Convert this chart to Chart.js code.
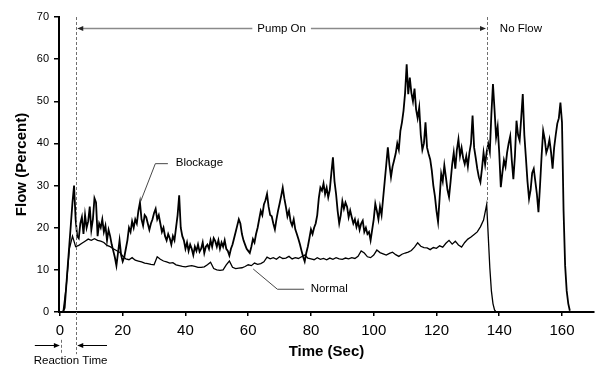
<!DOCTYPE html>
<html>
<head>
<meta charset="utf-8">
<script src="https://cdn.jsdelivr.net/npm/chart.js@4.4.1/dist/chart.umd.min.js"></script>
<style>
  html, body { margin: 0; padding: 0; background: #fff; }
</style>
</head>
<body>
<canvas id="flow-chart" width="595" height="365"></canvas>
<script>
// Blockage flow, sampled every 0.5 s starting at t = 1 s
const blockStart = 1;
const blockStep = 0.5;
const blockage = [
  0, 1, 6, 11, 16, 21, 26, 30, 22, 18,
  17.5, 21, 22.5, 18.5, 23, 20, 21.5, 25, 19.5, 22,
  27, 26, 18, 21, 20, 22, 19, 20.5, 17, 19.5,
  18, 16, 14.5, 13, 11, 14, 17, 13.5, 12, 13,
  15, 17, 20, 19, 21.5, 20, 22, 21, 24, 26,
  22, 20.5, 23, 22.5, 21, 19.5, 21, 22, 23.5, 24.5,
  22, 23, 21, 19, 20, 18, 17, 18.5, 17.5, 16,
  18, 17, 20, 23, 27.7, 20, 18, 17, 15, 16.5,
  14.5, 16, 15, 13.5, 15.5, 14.5, 16, 14.3, 15, 16.5,
  14, 15.5, 16, 15, 17, 15.5, 17.5, 16.8, 15.5, 17,
  15, 16.5, 15.5, 17, 15, 14.5, 13.4, 15, 16, 17.5,
  19, 20.5, 22, 21, 18.5, 17, 16, 15, 14.5, 14,
  15.5, 17.3, 16.5, 18.5, 20, 22, 24, 23, 25.5, 26.5,
  28, 25, 23, 22.7, 21, 19.6, 22, 24, 25.7, 27.5,
  29.5, 27, 25, 22.7, 24, 21.5, 20.5, 22, 19.6, 18.5,
  17.3, 16, 14.5, 13.1, 12, 14, 15.5, 17.5, 19.6, 18.5,
  20, 21, 23, 27, 29.5, 28.8, 30.5, 28, 29.5, 27.2,
  29, 33, 36.7, 31, 28, 24, 21, 23, 26.3, 24.5,
  26, 25, 22.5, 24.1, 22.5, 21, 22, 20.2, 21.5, 19.5,
  21, 21.7, 19, 20, 18.5, 19, 17, 19.5, 22, 25.7,
  24, 22, 25, 23, 27, 31, 35, 39.1, 35, 32,
  34.5, 36, 37.6, 40, 38.5, 43, 45, 47.8, 52, 58.8,
  51.7, 55.6, 52, 50, 53, 48.1, 46, 48.5, 42, 38.5,
  40, 45, 39, 37.5, 36.2, 33.6, 30, 27.5, 24, 21.4,
  27, 32.8, 31, 34.8, 32, 29, 27.3, 31, 35, 37.8,
  34, 38.5, 41, 37, 39, 36.5, 35.1, 37, 34.5, 37.8,
  40, 46.6, 39, 36.6, 34, 32, 30.8, 34, 37.8, 35,
  38, 39.9, 38, 47, 54.1, 48, 41.5, 44, 37.8, 29.6,
  33, 36, 34.5, 37.8, 40, 41.7, 36, 31.5, 37, 45.4,
  42, 40.7, 46, 51.7, 42, 36.6, 31, 26.9, 29, 33,
  34, 31, 28, 23.7, 30, 37, 43, 41, 37.8, 39,
  40.9, 38, 34, 39, 42, 44.7, 46, 49.7, 45, 24,
  11, 5, 2, 0.3
];

// Normal flow, sampled every 1 s starting at t = 1 s
const normalStart = 1;
const normalStep = 1;
const normal = [
  0, 6, 15, 18, 15.5, 15.8, 16.3, 16.8, 17.3, 17,
  17.4, 17, 16.8, 16.5, 15.8, 15.5, 15, 14.6, 14.2, 13.3,
  12.6, 12.4, 12.9, 12.3, 12.1, 11.9, 11.6, 11.5, 11.3, 11.2,
  13.1, 12.5, 12.1, 11.9, 11.6, 11.7, 11.2, 11, 10.8, 10.7,
  10.9, 11, 10.8, 10.6, 10.6, 10.7, 11.2, 11.8, 10.3, 10,
  9.9, 10, 11.2, 12.1, 10.6, 10.3, 10.4, 10.5, 10.8, 11.2,
  11, 11.6, 11.3, 11.5, 11.9, 13, 12.6, 12.9, 12.5, 13.1,
  12.7, 12.8, 13.2, 12.6, 12.9, 12.7, 13.1, 13.5, 12.8, 12.6,
  12.4, 12.9, 12.5, 12.7, 12.4, 12.8, 12.5, 12.9, 12.6, 12.5,
  12.8, 12.6, 12.9, 12.7, 13.2, 14.5, 14, 13.1, 12.9, 13.5,
  14.7, 14.1, 13.8, 13.5, 13.9, 14.2, 13.6, 13.2, 13.7, 14,
  14.2, 14.6, 15.4, 16.4, 15.6, 15.3, 15.2, 14.8, 15.3, 15.1,
  15.7, 15.4, 16.3, 17, 16.1, 16.8, 15.9, 15.4, 16.5, 17.3,
  17.8, 18.4, 19, 20.2, 21.8, 25.5
];
// pump switched off: normal flow falls away
const normalTailTime = [136.5, 137, 137.5, 138, 138.5, 139];
const normalTail = [18, 10.5, 5, 2, 0.5, 0];

const xTicks = [0, 20, 40, 60, 80, 100, 120, 140, 160];

const FONT = '"Liberation Sans", Arial, Helvetica, sans-serif';

const toPoints = (vals, start, step) => vals.map((v, i) => ({ x: start + i * step, y: v }));
const blockagePts = toPoints(blockage, blockStart, blockStep);
const normalPts = toPoints(normal, normalStart, normalStep)
  .concat(normalTailTime.map((t, i) => ({ x: t, y: normalTail[i] })));

// annotation layout, in data units (time, percent)
const marks = {
  reactionStart: 0.3,
  pumpOn: 5.2,
  pumpOff: 136.1,
  arrowLevel: 67.4,
  reactionArrowLevel: -7.8,
  reactionTextLevel: -11.5,
  lineBottom: -10,
  pumpOffBottom: 25.8
};

const drawArrowHead = (ctx, x, y, dir) => {
  ctx.beginPath();
  ctx.moveTo(x, y);
  ctx.lineTo(x - dir * 6, y - 2.5);
  ctx.lineTo(x - dir * 6, y + 2.5);
  ctx.closePath();
  ctx.fill();
};

const segment = (ctx, x1, y1, x2, y2) => {
  ctx.beginPath();
  ctx.moveTo(x1, y1);
  ctx.lineTo(x2, y2);
  ctx.stroke();
};

const notesPlugin = {
  id: 'notes',
  afterDraw(chart) {
    const ctx = chart.ctx;
    const xs = chart.scales.x;
    const ys = chart.scales.y;
    const px = v => xs.getPixelForValue(v);
    const py = v => ys.getPixelForValue(v);
    ctx.save();

    // dashed markers
    ctx.strokeStyle = '#707070';
    ctx.lineWidth = 1;
    ctx.setLineDash([3, 2]);
    segment(ctx, Math.round(px(marks.pumpOn)) + 0.5, py(70), Math.round(px(marks.pumpOn)) + 0.5, py(marks.lineBottom));
    segment(ctx, Math.round(px(marks.pumpOff)) + 0.5, py(70), Math.round(px(marks.pumpOff)) + 0.5, py(marks.pumpOffBottom));
    segment(ctx, Math.round(px(marks.reactionStart)) + 0.5, py(-6.6), Math.round(px(marks.reactionStart)) + 0.5, py(marks.lineBottom));
    ctx.setLineDash([]);

    ctx.font = '11.5px ' + FONT;
    ctx.textBaseline = 'middle';

    // Pump On arrow
    const ay = Math.round(py(marks.arrowLevel)) + 0.5;
    const x1 = px(marks.pumpOn) + 1;
    const x2 = px(marks.pumpOff) - 1;
    const label = 'Pump On';
    const w = ctx.measureText(label).width;
    const mid = (x1 + x2) / 2;
    ctx.strokeStyle = '#8a8a8a';
    ctx.lineWidth = 1.4;
    segment(ctx, x1 + 4, ay, mid - w / 2 - 5, ay);
    segment(ctx, mid + w / 2 + 5, ay, x2 - 4, ay);
    ctx.fillStyle = '#222';
    drawArrowHead(ctx, x1, ay, -1);
    drawArrowHead(ctx, x2, ay, 1);
    ctx.fillStyle = '#000';
    ctx.textAlign = 'center';
    ctx.fillText(label, mid, ay);
    ctx.textAlign = 'left';
    ctx.fillText('No Flow', px(140.2), ay);

    // Reaction time arrows
    const ry = Math.round(py(marks.reactionArrowLevel)) + 0.5;
    ctx.strokeStyle = '#000';
    ctx.lineWidth = 1;
    segment(ctx, px(-8), ry, px(marks.reactionStart) - 5, ry);
    drawArrowHead(ctx, px(marks.reactionStart) - 1, ry, 1);
    segment(ctx, px(15), ry, px(marks.pumpOn) + 6, ry);
    drawArrowHead(ctx, px(marks.pumpOn) + 1, ry, -1);
    ctx.textAlign = 'center';
    ctx.fillText('Reaction Time', px(3.4), py(marks.reactionTextLevel));

    // series labels with leader lines
    ctx.strokeStyle = '#333';
    ctx.lineWidth = 0.9;
    ctx.beginPath();
    ctx.moveTo(px(25.7), py(26.2));
    ctx.lineTo(px(30.4), py(35.2));
    ctx.lineTo(px(34.4), py(35.2));
    ctx.stroke();
    ctx.textAlign = 'left';
    ctx.fillText('Blockage', px(36.9), py(35.3));

    ctx.beginPath();
    ctx.moveTo(px(61.6), py(10.2));
    ctx.lineTo(px(69.3), py(5.4));
    ctx.lineTo(px(77.8), py(5.4));
    ctx.stroke();
    ctx.fillText('Normal', px(79.9), py(5.4));

    ctx.restore();
  }
};

new Chart(document.getElementById('flow-chart').getContext('2d'), {
  type: 'line',
  data: {
    datasets: [
      {
        label: 'Blockage',
        data: blockagePts,
        borderColor: '#000',
        borderWidth: 1.8,
        pointRadius: 0,
        tension: 0,
        fill: false
      },
      {
        label: 'Normal',
        data: normalPts,
        borderColor: '#000',
        borderWidth: 1.3,
        pointRadius: 0,
        tension: 0,
        fill: false
      }
    ]
  },
  options: {
    responsive: false,
    animation: false,
    devicePixelRatio: 1,
    layout: { padding: { top: 17, right: 1, bottom: 0, left: 0 } },
    plugins: { legend: { display: false }, tooltip: { enabled: false } },
    scales: {
      x: {
        type: 'linear',
        min: -0.3,
        max: 170.2,
        afterBuildTicks: s => { s.ticks = xTicks.map(v => ({ value: v })); },
        afterFit: s => { s.height = 53; },
        grid: { drawOnChartArea: false, tickLength: 4, color: '#000', lineWidth: 1.5 },
        border: { color: '#000', width: 2 },
        ticks: { font: { size: 15, family: FONT }, color: '#000', padding: 6, maxRotation: 0, autoSkip: false },
        title: {
          display: true,
          text: 'Time (Sec)',
          color: '#000',
          font: { size: 15, weight: 'bold', family: FONT, lineHeight: 1.2 },
          padding: { top: 0, bottom: 4 }
        }
      },
      y: {
        min: 0,
        max: 70,
        afterFit: s => { s.width = 59; },
        grid: { drawOnChartArea: false, tickLength: 5, color: '#000', lineWidth: 1.5 },
        border: { color: '#000', width: 2 },
        ticks: { stepSize: 10, font: { size: 11, family: FONT }, color: '#000', padding: 5 },
        title: {
          display: true,
          text: 'Flow (Percent)',
          color: '#000',
          font: { size: 15, weight: 'bold', family: FONT, lineHeight: 1.2 },
          padding: { top: 13, bottom: 0 }
        }
      }
    }
  },
  plugins: [notesPlugin]
});
</script>
</body>
</html>
